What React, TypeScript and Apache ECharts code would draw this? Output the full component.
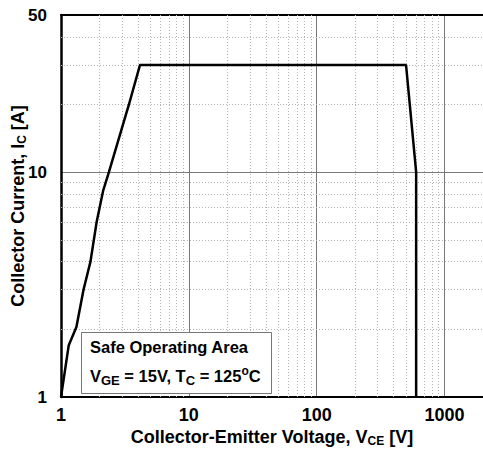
import React, { useEffect, useRef } from "react";
import * as echarts from "echarts";

const soaVoltage = [1, 1.15, 1.32, 1.5, 1.7, 1.9, 2.14, 2.37, 3.4, 4.15, 500, 600, 600];
const soaCurrent = [1, 1.7, 2.05, 3.0, 4.0, 6.0, 8.3, 10, 20, 30, 30, 10, 1];

const xMin = 1;
const xMax = 2000;
const yMin = 1;
const yMax = 50;

const xMinorGrid = [2, 3, 4, 5, 6, 7, 8, 9, 20, 30, 40, 50, 60, 70, 80, 90, 200, 300, 400, 500, 600, 700, 800, 900];
const yMinorGrid = [2, 3, 4, 5, 6, 7, 8, 9, 20, 30, 40];

const FONT = "'Liberation Sans', Arial, sans-serif";

export default function App() {
  const ref = useRef<HTMLDivElement>(null);
  useEffect(() => {
    if (!ref.current) return;
    const chart = echarts.init(ref.current, null, { renderer: "svg" });
    const isPow10 = (v: number) => {
      const l = Math.log10(v);
      return Math.abs(l - Math.round(l)) < 1e-6;
    };
    const minorStyle = { type: [1, 2] as any, color: "#b4b4b4", width: 1 };
    chart.setOption({
      animation: false,
      backgroundColor: "#ffffff",
      textStyle: { fontFamily: FONT },
      grid: { left: 61, right: 0, top: 15, bottom: 59, containLabel: false, outerBoundsMode: "none" },
      xAxis: [
        {
          type: "log",
          logBase: 10,
          min: xMin,
          max: xMax,
          axisLine: { show: true, onZero: false, lineStyle: { color: "#000", width: 2 } },
          axisTick: { show: false },
          axisLabel: {
            margin: 9,
            color: "#000",
            fontSize: 18,
            fontWeight: "bold",
            fontFamily: FONT,
            formatter: (v: number) => (isPow10(v) ? String(Math.round(v)) : ""),
          },
          splitLine: { show: true, lineStyle: { color: "#7a7a7a", width: 1 } },
          name: "Collector-Emitter Voltage, V{sub|CE} [V]",
          nameLocation: "middle",
          nameGap: 29,
          nameMoveOverlap: false,
          nameTextStyle: {
            color: "#000",
            fontSize: 18,
            fontWeight: "bold",
            fontFamily: FONT,
            rich: {
              sub: { fontSize: 12, fontWeight: "bold", fontFamily: FONT, color: "#000", padding: [9, 0, 0, 0] },
            },
          },
        },
        {
          type: "log",
          logBase: 10,
          min: xMin,
          max: xMax,
          position: "top",
          axisLine: { show: true, onZero: false, lineStyle: { color: "#000", width: 2 } },
          axisTick: { show: false },
          axisLabel: { show: false },
          splitLine: { show: false },
        },
      ],
      yAxis: {
        type: "log",
        logBase: 10,
        min: yMin,
        max: yMax,
        axisLine: { show: true, onZero: false, lineStyle: { color: "#000", width: 2.5 } },
        axisTick: { show: false },
        axisLabel: {
          margin: 14,
          color: "#000",
          fontSize: 17,
          fontWeight: "bold",
          fontFamily: FONT,
          formatter: (v: number) => String(Math.round(v)),
        },
        splitLine: { show: true, lineStyle: { color: "#7a7a7a", width: 1 } },
        name: "Collector Current, I{sub|C} [A]",
        nameLocation: "middle",
        nameGap: 33,
        nameMoveOverlap: false,
        nameTextStyle: {
          color: "#000",
          fontSize: 18,
          fontWeight: "bold",
          fontFamily: FONT,
          rich: {
            sub: { fontSize: 12, fontWeight: "bold", fontFamily: FONT, color: "#000", padding: [9, 0, 0, 0] },
          },
        },
      },
      series: [
        {
          type: "line",
          data: [[xMin, yMin]],
          showSymbol: false,
          symbol: "none",
          lineStyle: { width: 0 },
          silent: true,
          z: 1,
          markLine: {
            silent: true,
            symbol: "none",
            label: { show: false },
            lineStyle: minorStyle,
            emphasis: { disabled: true },
            data: [
              ...xMinorGrid.map((v) => ({ xAxis: v })),
              ...yMinorGrid.map((v) => ({ yAxis: v })),
            ],
          },
        },
        {
          type: "line",
          data: soaVoltage.map((v, i) => [v, soaCurrent[i]]),
          showSymbol: false,
          symbol: "none",
          z: 5,
          lineStyle: { color: "#000", width: 2.5 },
        },
      ],
      graphic: [
        {
          type: "rect",
          shape: { x: 81.5, y: 332.5, width: 190, height: 61 },
          style: { fill: "#fff", stroke: "#777", lineWidth: 1 },
          z: 100,
        },
        {
          type: "text",
          x: 90,
          y: 347,
          z: 101,
          style: {
            text: "Safe Operating Area",
            fill: "#000",
            font: `bold 16.5px ${FONT}`,
            verticalAlign: "middle",
          },
        },
        {
          type: "text",
          x: 90,
          y: 376,
          z: 101,
          style: {
            text: "V{sub|GE} = 15V, T{sub|C} = 125{sup|o}C",
            fill: "#000",
            fontSize: 16.5,
            fontWeight: "bold",
            fontFamily: FONT,
            verticalAlign: "middle",
            rich: {
              sub: { fontSize: 13, fontWeight: "bold", fontFamily: FONT, fill: "#000", padding: [9, 0, 0, 0] },
              sup: { fontSize: 12, fontWeight: "bold", fontFamily: FONT, fill: "#000", padding: [0, 0, 10, 0] },
            },
          },
        },
      ],
    });
    return () => chart.dispose();
  }, []);
  return <div ref={ref} style={{ width: 483, height: 456, position: "absolute", left: 0, top: 0 }} />;
}
